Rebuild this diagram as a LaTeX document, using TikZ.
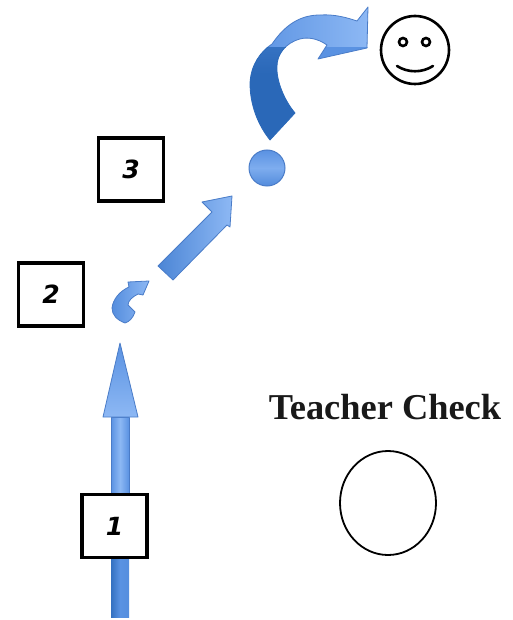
\documentclass[tikz,border=0pt]{standalone}
\usepackage{fontspec}
\setmainfont{Liberation Serif}
\newfontfamily\digitfont{DejaVu Sans}
\usetikzlibrary{calc}
\definecolor{edgeblue}{HTML}{4A7CC8}
\definecolor{lightblue}{HTML}{8DB8F4}
\definecolor{midblue}{HTML}{5A92E2}
\definecolor{darkblue}{HTML}{2A68B8}
\tikzset{
  numbox/.style={draw=black,line width=3.2pt,fill=white,minimum width=65pt,minimum height=63pt,inner sep=0pt,
    font=\digitfont\bfseries\itshape\fontsize{25}{27}\selectfont},
  arrowedge/.style={draw=edgeblue,line width=0.8pt,line join=round},
}
\begin{document}
\begin{tikzpicture}[x=1pt,y=-1pt]
\useasboundingbox (0,0) rectangle (512,620);
% Arrow 1
\path[arrowedge,left color=midblue,right color=midblue,middle color=lightblue]
  (111,500) -- (111,417) -- (129,417) -- (129,500) -- cycle;
\path[arrowedge,top color=midblue,bottom color=lightblue]
  (120,343) -- (138,417) -- (103,417) -- cycle;
\fill[left color=darkblue!80!midblue,right color=midblue!90!darkblue,middle color=midblue] (111,500) rectangle (129,617);
% Arrow 2 (small curved)
\path[arrowedge,left color=midblue!90!darkblue,right color=lightblue]
  (149,281) -- (143,295) -- (138,294) .. controls (132,297) and (128,301) .. (128,305)
  -- (135,312) .. controls (133,318) and (129,322) .. (125,323) .. controls (117,320) and (112,315) .. (112,308)
  .. controls (113,299) and (120,291) .. (129,287) -- (128,282) -- cycle;
% Arrow 3 (diagonal)
\path[arrowedge,left color=midblue!70!darkblue,right color=lightblue]
  (232,196) -- (230,227) -- (227,225) -- (173,280) -- (158,266) -- (212,212) -- (202,202) -- cycle;
% Big curved arrow
\def\bigarrow{(368,7) -- (367,48) -- (318,59) -- (327,45) .. controls (317,38) and (307,37) .. (300,39)
  .. controls (285,43) and (277,55) .. (277,66) .. controls (276,80) and (284,100) .. (295,113)
  -- (270,140) .. controls (258,125) and (250,105) .. (250,83) .. controls (251,65) and (260,52) .. (272,44)
  .. controls (285,25) and (300,15) .. (320,15) .. controls (335,14) and (348,18) .. (357,21) -- cycle}
\begin{scope}
  \clip (240,0) rectangle (380,48);
  \path[arrowedge,left color=midblue,right color=lightblue] \bigarrow;
\end{scope}
\begin{scope}
  \clip (240,48) rectangle (300,150);
  \path[draw=darkblue,line width=0.8pt,line join=round,top color=midblue!60!darkblue,bottom color=darkblue,middle color=darkblue] \bigarrow;
\end{scope}
\begin{scope}
  \clip (300,48) rectangle (380,150);
  \path[arrowedge,fill=midblue] \bigarrow;
\end{scope}
% Dot
\node[circle,draw=edgeblue,line width=1pt,inner sep=0pt,minimum size=36pt,
  top color=midblue,bottom color=midblue!85!darkblue,middle color=lightblue!70!midblue] (dot) at (267,168) {};
% Smiley
\node[circle,draw=black,line width=2.6pt,fill=white,minimum size=68pt,inner sep=0pt] (face) at (415,50) {};
\node[circle,draw=black,line width=2.6pt,fill=white,minimum size=8pt,inner sep=0pt] (eyeL) at (403,42) {};
\node[circle,draw=black,line width=2.6pt,fill=white,minimum size=8pt,inner sep=0pt] (eyeR) at (426,42) {};
\draw[black,line width=2.6pt,line cap=round] (397,66) .. controls (408,73) and (422,73) .. (433,66);
% Boxes
\node[numbox] (b1) at (114.5,526) {1};
\node[numbox] (b2) at (51,294.5) {2};
\node[numbox] (b3) at (131,169.5) {3};
% Teacher check
\node[font=\bfseries\fontsize{36.4}{40}\selectfont,inner sep=0pt,text=black!90] (tc) at (385,407) {Teacher Check};
\draw[black,line width=1.8pt] (388,503) ellipse [x radius=48,y radius=52];
\end{tikzpicture}
\end{document}
